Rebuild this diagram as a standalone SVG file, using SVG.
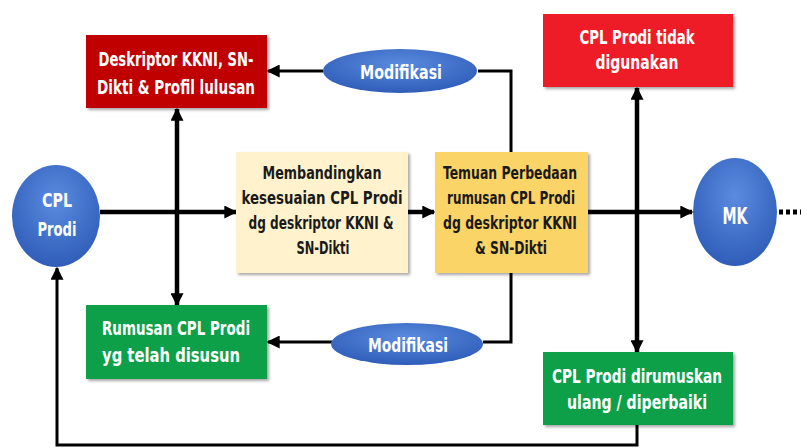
<svg xmlns="http://www.w3.org/2000/svg" width="807" height="448" viewBox="0 0 807 448">
<defs>
  <filter id="sh" x="-10%" y="-10%" width="125%" height="130%">
    <feDropShadow dx="2" dy="2" stdDeviation="1.5" flood-color="#000" flood-opacity="0.35"/>
  </filter>
  <radialGradient id="blue" cx="50%" cy="35%" r="65%">
    <stop offset="0" stop-color="#5B8BE0"/>
    <stop offset="1" stop-color="#2F5DB8"/>
  </radialGradient>
  <marker id="ah" viewBox="0 0 10 10" refX="9" refY="5" markerWidth="13" markerHeight="13" markerUnits="userSpaceOnUse" orient="auto-start-reverse">
    <path d="M0,0 L10,5 L0,10 z" fill="#000"/>
  </marker>
</defs>
<style>
  text { font-family: "DejaVu Sans Condensed", "DejaVu Sans", "Liberation Sans", sans-serif; font-stretch: condensed; font-weight: bold; text-anchor: middle; }
  .w { fill: #ffffff; font-size: 20px; }
  .d { fill: #1a1a1a; font-size: 18px; }
  .box { filter: url(#sh); }
  .c { fill: none; stroke: #000; stroke-width: 4.5; }
  .t { fill: none; stroke: #000; stroke-width: 3; }
</style>
<rect width="807" height="448" fill="#ffffff"/>

<g id="connectors">
  <line class="c" x1="100" y1="212" x2="236" y2="212" marker-end="url(#ah)"/>
  <line class="c" x1="408" y1="212" x2="434" y2="212" marker-end="url(#ah)"/>
  <line class="c" x1="588" y1="212" x2="692" y2="212" marker-end="url(#ah)"/>
  <line class="c" x1="177" y1="109" x2="177" y2="305" marker-start="url(#ah)" marker-end="url(#ah)"/>
  <line class="c" x1="637" y1="88" x2="637" y2="352" marker-start="url(#ah)" marker-end="url(#ah)"/>
  <polyline class="t" points="511,152 511,71 478,71"/>
  <line class="t" x1="323" y1="71" x2="268" y2="71" marker-end="url(#ah)"/>
  <polyline class="t" points="511,273 511,342 483,342"/>
  <line class="t" x1="332" y1="342" x2="268" y2="342" marker-end="url(#ah)"/>
  <polyline class="t" points="637,425 637,445 57,445 57,268" marker-end="url(#ah)"/>
  <line x1="779" y1="212" x2="801" y2="212" stroke="#000" stroke-width="5" stroke-dasharray="4 3"/>
</g>

<g id="deskriptor">
  <rect class="box" x="86" y="35" width="181" height="73" fill="#C00000"/>
  <text class="w" x="176" y="66" textLength="155" lengthAdjust="spacingAndGlyphs">Deskriptor KKNI, SN-</text>
  <text class="w" x="176" y="94" textLength="158" lengthAdjust="spacingAndGlyphs">Dikti &amp; Profil lulusan</text>
</g>

<g id="modifikasi-atas">
  <ellipse cx="400" cy="71" rx="77" ry="22" fill="url(#blue)"/>
  <text class="w" x="401" y="79" textLength="82" lengthAdjust="spacingAndGlyphs">Modifikasi</text>
</g>

<g id="tidak-digunakan">
  <rect class="box" x="543" y="14" width="190" height="73" fill="#EE1C25"/>
  <text class="w" x="637" y="44" textLength="115" lengthAdjust="spacingAndGlyphs">CPL Prodi tidak</text>
  <text class="w" x="637" y="69" textLength="83" lengthAdjust="spacingAndGlyphs">digunakan</text>
</g>

<g id="cpl-prodi">
  <ellipse cx="56" cy="216" rx="44" ry="51" fill="url(#blue)"/>
  <text class="w" x="57" y="207" textLength="30" lengthAdjust="spacingAndGlyphs">CPL</text>
  <text class="w" x="57" y="236" textLength="39" lengthAdjust="spacingAndGlyphs">Prodi</text>
</g>

<g id="membandingkan">
  <rect class="box" x="236" y="152" width="172" height="121" fill="#FFF2CC"/>
  <text class="d" x="322" y="179" textLength="119" lengthAdjust="spacingAndGlyphs">Membandingkan</text>
  <text class="d" x="322" y="204" textLength="161" lengthAdjust="spacingAndGlyphs">kesesuaian CPL Prodi</text>
  <text class="d" x="321" y="229" textLength="145" lengthAdjust="spacingAndGlyphs">dg deskriptor KKNI &amp;</text>
  <text class="d" x="323" y="254" textLength="53" lengthAdjust="spacingAndGlyphs">SN-Dikti</text>
</g>

<g id="temuan">
  <rect class="box" x="435" y="152" width="153" height="121" fill="#FAD466"/>
  <text class="d" x="510" y="179" textLength="134" lengthAdjust="spacingAndGlyphs">Temuan Perbedaan</text>
  <text class="d" x="511" y="204" textLength="128" lengthAdjust="spacingAndGlyphs">rumusan CPL Prodi</text>
  <text class="d" x="510" y="229" textLength="134" lengthAdjust="spacingAndGlyphs">dg deskriptor KKNI</text>
  <text class="d" x="511" y="254" textLength="72" lengthAdjust="spacingAndGlyphs">&amp; SN-Dikti</text>
</g>

<g id="mk">
  <ellipse cx="735" cy="212" rx="42" ry="54" fill="url(#blue)"/>
  <text class="w" x="735" y="224" style="font-size:23px" textLength="25" lengthAdjust="spacingAndGlyphs">MK</text>
</g>

<g id="rumusan">
  <rect class="box" x="86" y="305" width="181" height="74" fill="#0FA04A"/>
  <text class="w" x="176" y="335" textLength="148" lengthAdjust="spacingAndGlyphs">Rumusan CPL Prodi</text>
  <text class="w" x="171" y="362" textLength="138" lengthAdjust="spacingAndGlyphs">yg telah disusun</text>
</g>

<g id="modifikasi-bawah">
  <ellipse cx="407" cy="344" rx="76" ry="21" fill="url(#blue)"/>
  <text class="w" x="408" y="352" textLength="80" lengthAdjust="spacingAndGlyphs">Modifikasi</text>
</g>

<g id="dirumuskan-ulang">
  <rect class="box" x="543" y="352" width="190" height="73" fill="#0FA04A"/>
  <text class="w" x="637" y="383" textLength="170" lengthAdjust="spacingAndGlyphs">CPL Prodi dirumuskan</text>
  <text class="w" x="637" y="409" textLength="140" lengthAdjust="spacingAndGlyphs">ulang / diperbaiki</text>
</g>
</svg>
